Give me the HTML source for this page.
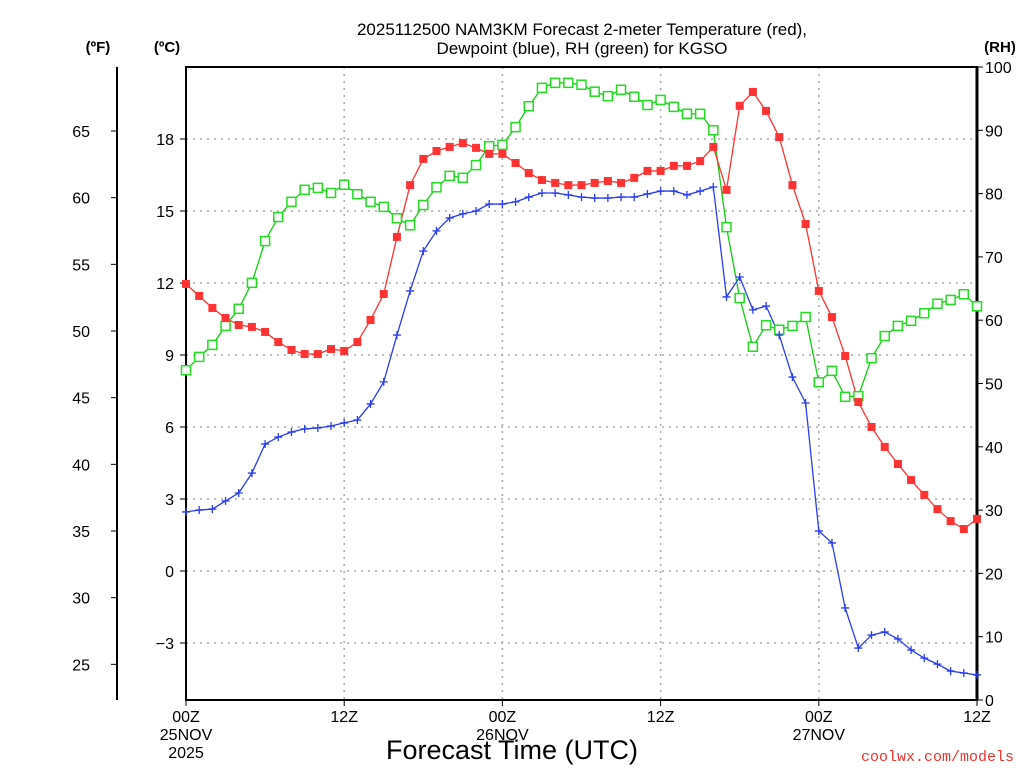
<!DOCTYPE html>
<html><head><meta charset="utf-8"><style>
body{margin:0;background:#fff;}
svg{display:block;font-family:"Liberation Sans",sans-serif;}
</style></head><body>
<svg id="chart" width="1024" height="768" viewBox="0 0 1024 768">
<text x="582" y="35" text-anchor="middle" font-size="17">2025112500 NAM3KM Forecast 2-meter Temperature (red),</text>
<text x="582" y="54" text-anchor="middle" font-size="17">Dewpoint (blue), RH (green) for KGSO</text>
<text x="98" y="52" text-anchor="middle" font-size="15" font-weight="bold">(ºF)</text>
<text x="167" y="52" text-anchor="middle" font-size="15" font-weight="bold">(ºC)</text>
<text x="1000" y="52" text-anchor="middle" font-size="15" font-weight="bold">(RH)</text>
<g id="grid"></g><g id="axes"></g><g id="series"></g>
<text x="512" y="759" text-anchor="middle" font-size="27">Forecast Time (UTC)</text>
<text x="1014" y="761" text-anchor="end" font-size="15" fill="#e33" font-family="Liberation Mono, monospace">coolwx.com/models</text>
</svg>
<script>
const hours=[...Array(61).keys()];
const tempC=[11.96,11.46,10.96,10.54,10.25,10.17,9.96,9.54,9.21,9.04,9.04,9.25,9.17,9.54,10.46,11.54,13.92,16.08,17.17,17.5,17.67,17.83,17.63,17.38,17.38,17.0,16.58,16.29,16.17,16.08,16.08,16.17,16.25,16.17,16.38,16.67,16.67,16.88,16.88,17.08,17.67,15.88,19.38,19.96,19.17,18.08,16.08,14.46,11.67,10.58,8.96,7.04,6.0,5.17,4.46,3.79,3.17,2.58,2.08,1.75,2.17];
const dewC=[2.46,2.54,2.58,2.92,3.25,4.08,5.29,5.58,5.79,5.92,5.96,6.04,6.17,6.29,6.96,7.88,9.83,11.67,13.33,14.17,14.71,14.88,15.0,15.29,15.29,15.38,15.58,15.75,15.75,15.67,15.58,15.54,15.54,15.58,15.58,15.71,15.83,15.83,15.67,15.83,16.0,11.42,12.25,10.88,11.04,9.83,8.08,7.0,1.67,1.17,-1.54,-3.21,-2.67,-2.54,-2.83,-3.29,-3.63,-3.88,-4.17,-4.25,-4.33];
const rh=[52.1,54.2,56.1,59.1,61.8,65.9,72.5,76.3,78.7,80.6,80.9,80.1,81.4,79.9,78.7,77.9,76.1,75.0,78.2,81.0,82.8,82.5,84.5,87.5,87.7,90.5,93.8,96.7,97.5,97.5,97.2,96.1,95.4,96.4,95.3,94.0,94.8,93.7,92.6,92.6,90.0,74.7,63.5,55.8,59.2,58.5,59.1,60.5,50.2,52.0,47.9,48.0,54.0,57.5,59.1,59.9,61.1,62.6,63.2,64.1,62.2];
const cTicks=[-3,0,3,6,9,12,15,18];
const fTicks=[25,30,35,40,45,50,55,60,65];
const rhTicks=[0,10,20,30,40,50,60,70,80,90,100];
const xTickHours=[0,12,24,36,48,60];
const xTickLabels=[["00Z","25NOV","2025"],["12Z"],["00Z","26NOV"],["12Z"],["00Z","27NOV"],["12Z"]];

const X0=186,X1=977,Y0=67,Y1=700;
const xS=h=>X0+(X1-X0)*h/60;
const yC=c=>571-24*c;
const yF=f=>yC((f-32)/1.8);
const yR=r=>Y1-(Y1-Y0)*r/100;
const NS="http://www.w3.org/2000/svg";
function mk(tag,attrs,parent){const e=document.createElementNS(NS,tag);for(const k in attrs)e.setAttribute(k,attrs[k]);parent.appendChild(e);return e;}
const grid=document.getElementById('grid'),axes=document.getElementById('axes'),ser=document.getElementById('series');

cTicks.forEach(c=>{
 const g=mk('line',{x1:X0,x2:X1,y1:yC(c),y2:yC(c),stroke:'#aaa','stroke-dasharray':'2,5','stroke-width':1.5},grid);
 
 
 const t=mk('line',{x1:X0-6,x2:X0,y1:yC(c),y2:yC(c),stroke:'#000'},axes);
 
 
 const l=mk('text',{x:174,y:yC(c)+6,'text-anchor':'end','font-size':16},axes);
 l.textContent=c<0?'\u2212'+(-c):String(c);
 
 
});
xTickHours.forEach((h,i)=>{
 if(h>0&&h<60){const g=mk('line',{x1:xS(h),x2:xS(h),y1:Y0,y2:Y1,stroke:'#aaa','stroke-dasharray':'2,5','stroke-width':1.5},grid);
 
 }
 const t=mk('line',{x1:xS(h),x2:xS(h),y1:Y1,y2:Y1+6,stroke:'#000'},axes);
 
 
 xTickLabels[i].forEach((s,j)=>{const l=mk('text',{x:xS(h),y:722+j*18,'text-anchor':'middle','font-size':16},axes);l.textContent=s;
 
 });
});
fTicks.forEach(f=>{
 const t=mk('line',{x1:111,x2:117,y1:yF(f),y2:yF(f),stroke:'#000'},axes);
 
 
 const l=mk('text',{x:90,y:yF(f)+6,'text-anchor':'end','font-size':16},axes);l.textContent=f;
 
 
});
rhTicks.forEach(r=>{
 const t=mk('line',{x1:X1,x2:X1+6,y1:yR(r),y2:yR(r),stroke:'#000'},axes);
 
 
 const l=mk('text',{x:985,y:yR(r)+6,'font-size':16},axes);l.textContent=r;
 
 
});
let a=mk('line',{x1:117,x2:117,y1:Y0,y2:Y1,stroke:'#000','stroke-width':2},axes);


a=mk('rect',{x:X0,y:Y0,width:X1-X0,height:Y1-Y0,fill:'none',stroke:'#000','stroke-width':2},axes);


a=mk('line',{x1:X1,x2:X1,y1:Y0,y2:Y1,stroke:'#000','stroke-width':3},axes);



function line(vals,yf,color,name){
 const p=mk('polyline',{points:vals.map((v,i)=>xS(hours[i])+','+yf(v)).join(' '),fill:'none',stroke:color,'stroke-width':1.3},ser);
 
 
}
line(rh,yR,'#1c1','rh-line');
line(tempC,yC,'#f33','temperature-line');
line(dewC,yC,'#2a3cf0','dewpoint-line');
rh.forEach((v,i)=>{const m=mk('rect',{x:xS(hours[i])-4.5,y:yR(v)-4.5,width:9,height:9,fill:'#fff',stroke:'#2d2','stroke-width':1.5},ser);
 
 });
tempC.forEach((v,i)=>{const m=mk('rect',{x:xS(hours[i])-4,y:yC(v)-4,width:8,height:8,fill:'#f33'},ser);
 
 });
dewC.forEach((v,i)=>{const x=xS(hours[i]),y=yC(v);
 const m=mk('path',{d:`M${x-4},${y}H${x+4}M${x},${y-4}V${y+4}`,stroke:'#2a3cf0','stroke-width':1.3},ser);
 
 });
</script>
</body></html>
